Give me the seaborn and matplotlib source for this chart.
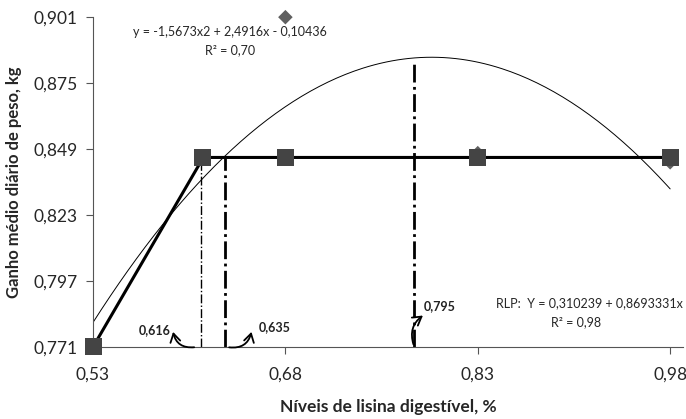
import numpy as np
import pandas as pd
import matplotlib
matplotlib.use("Agg")
import matplotlib.pyplot as plt
import seaborn as sns

# Observed means (diamonds) and plateau-model fit points (squares)
lisina = [0.53, 0.615, 0.68, 0.83, 0.98]
gmd_obs = [0.771, 0.846, 0.901, 0.8474, 0.8438]
gmd_rlp = [0.771, 0.8457, 0.8457, 0.8457, 0.8457]

# broken-line model
rlp_x = [0.53, 0.616, 0.98]
rlp_y = [0.771, 0.8457, 0.8457]

# quadratic curve as drawn
a2, a1, a0 = -1.50, 2.382, -0.06045

# vertical reference lines as drawn: x, top y
ref_x = [0.614, 0.633, 0.780]
ref_top = [0.8457, 0.8457, 0.8835]

sns.set_theme(style="white")
plt.rcParams['font.family'] = ['Lato', 'DejaVu Sans']

fig = plt.figure(figsize=(6.86, 4.19), dpi=100)
ax = fig.add_axes([0.1356, 0.172, 0.86, 0.787])

xq = np.linspace(0.53, 0.98, 200)
quad = pd.DataFrame({'x': xq, 'y': a2 * xq**2 + a1 * xq + a0})
sns.lineplot(data=quad, x='x', y='y', ax=ax, color='black', lw=0.7)

sns.lineplot(x=rlp_x, y=rlp_y, ax=ax, color='black', lw=2.2)

ax.plot([ref_x[0]] * 2, [0.771, ref_top[0]], color='black', lw=1.0, ls='-.')
ax.plot([ref_x[1]] * 2, [0.771, ref_top[1]], color='black', lw=2.0, ls='-.')
ax.plot([ref_x[2]] * 2, [0.771, ref_top[2]], color='black', lw=2.0, ls='-.')

sns.scatterplot(x=lisina, y=gmd_obs, ax=ax, marker='D', s=55, color='#5f5f5f',
                edgecolor='none', clip_on=False, zorder=5)
sns.scatterplot(x=lisina, y=gmd_rlp, ax=ax, marker='s', s=150, color='#444444',
                edgecolor='none', clip_on=False, zorder=6)

ax.set_xlim(0.53, 0.99)
ax.set_ylim(0.771, 0.901)
ax.set_xticks([0.53, 0.68, 0.83, 0.98])
ax.set_xticklabels(['0,53', '0,68', '0,83', '0,98'])
yt = [0.771, 0.797, 0.823, 0.849, 0.875, 0.901]
ax.set_yticks(yt)
ax.set_yticklabels([f"{v:.3f}".replace('.', ',') for v in yt])
ax.tick_params(axis='both', labelsize=12.5, length=5, width=0.8, color='#555555',
               direction='out', bottom=True, left=True, pad=6)
ax.tick_params(axis='x', pad=9)
for s in ['top', 'right']:
    ax.spines[s].set_visible(False)
for s in ['left', 'bottom']:
    ax.spines[s].set_color('#555555')
    ax.spines[s].set_linewidth(0.8)

ax.set_xlabel('Níveis de lisina digestível, %', fontsize=12.5, fontweight='bold', labelpad=12)
ax.set_ylabel('Ganho médio diário de peso, kg', fontsize=12, fontweight='bold', labelpad=8)

ax.text(0.6368, 0.8951, 'y = -1,5673x2 + 2,4916x - 0,10436', fontsize=9, ha='center', va='center')
ax.text(0.6368, 0.8880, 'R² = 0,70', fontsize=9, ha='center', va='center')
ax.text(0.99, 0.7883, 'RLP:  Y = 0,310239 + 0,8693331x', fontsize=9, ha='right', va='center')
ax.text(0.907, 0.7808, 'R² = 0,98', fontsize=9, ha='center', va='center')

arw = dict(arrowstyle='->,head_length=0.5,head_width=0.3', color='black', lw=1.3)
tk = dict(fontsize=9, ha='center', va='center', fontweight='bold', color='#222222')
ax.text(0.578, 0.7777, '0,616', **tk)
ax.annotate('', xy=(0.592, 0.7780), xytext=(0.611, 0.771),
            arrowprops=dict(arw, connectionstyle='arc3,rad=-0.5'))
ax.text(0.6718, 0.7789, '0,635', **tk)
ax.annotate('', xy=(0.654, 0.7780), xytext=(0.634, 0.771),
            arrowprops=dict(arw, connectionstyle='arc3,rad=0.5'))
ax.text(0.8004, 0.7871, '0,795', **tk)
ax.annotate('', xy=(0.789, 0.7840), xytext=(0.7805, 0.771),
            arrowprops=dict(arw, connectionstyle='arc3,rad=-0.4'))

fig.savefig('out.png', dpi=100)
